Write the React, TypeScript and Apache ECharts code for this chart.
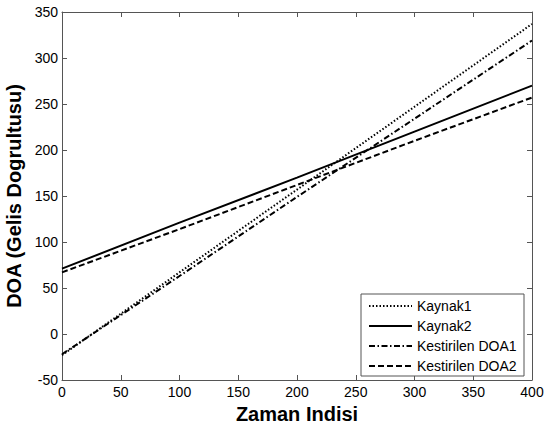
import React, { useEffect, useRef } from "react";
import * as echarts from "echarts";

const xValues = [0, 100, 200, 300, 400];
const kaynak1 = [-23, 67, 157, 247, 337];
const kaynak2 = [71, 121, 170, 220, 270];
const kestirilen1 = [-22, 63, 149, 234, 319];
const kestirilen2 = [67, 114, 162, 210, 257];
const seriesNames = ["Kaynak1", "Kaynak2", "Kestirilen DOA1", "Kestirilen DOA2"];
const xTicks = [0, 50, 100, 150, 200, 250, 300, 350, 400];
const yTicks = [-50, 0, 50, 100, 150, 200, 250, 300, 350];

const FONT = "'Liberation Sans', Arial, sans-serif";

export default function App() {
  const ref = useRef<HTMLDivElement>(null);
  useEffect(() => {
    if (!ref.current) return;
    const chart = echarts.init(ref.current, undefined, { renderer: "svg" });
    const seriesData = [kaynak1, kaynak2, kestirilen1, kestirilen2];
    const dashes: any[] = [[1.5, 2], "solid", [6, 2.5, 1.5, 2.5], [6, 3]];
    const widths = [2, 2, 2, 2];
    const axisLine = { show: true, onZero: false, lineStyle: { color: "#555", width: 1 } };
    const xCommon = {
      type: "value",
      min: xTicks[0],
      max: xTicks[xTicks.length - 1],
      interval: 50,
      splitLine: { show: false },
      axisLine,
      axisTick: { show: true, inside: true, length: 5, lineStyle: { color: "#555" } },
    };
    const yCommon = {
      type: "value",
      min: yTicks[0],
      max: yTicks[yTicks.length - 1],
      interval: 50,
      splitLine: { show: false },
      axisLine,
      axisTick: { show: true, inside: true, length: 5, lineStyle: { color: "#555" } },
    };
    const lx = 361, ly = 294, lw = 163, lh = 82;
    const legendGraphics: any[] = [
      {
        type: "rect",
        shape: { x: lx, y: ly, width: lw, height: lh },
        style: { fill: "#fff", stroke: "#555", lineWidth: 1 },
        z: 100,
      },
    ];
    seriesNames.forEach((name, i) => {
      const yy = ly + 12 + i * 20;
      legendGraphics.push({
        type: "line",
        shape: { x1: lx + 8, y1: yy, x2: lx + 51, y2: yy },
        style: {
          stroke: "#000",
          lineWidth: 2,
          lineDash: dashes[i] === "solid" ? null : dashes[i],
        },
        z: 101,
      });
      legendGraphics.push({
        type: "text",
        x: lx + 56,
        y: yy,
        style: {
          text: name,
          fill: "#000",
          font: `14px ${FONT}`,
          textVerticalAlign: "middle",
          verticalAlign: "middle",
        },
        z: 101,
      });
    });
    chart.setOption({
      animation: false,
      backgroundColor: "#fff",
      textStyle: { fontFamily: FONT },
      grid: {
        left: 62,
        right: 12,
        top: 12,
        bottom: 48,
        containLabel: false,
        outerBoundsMode: "none",
      },
      xAxis: [
        {
          ...xCommon,
          position: "bottom",
          name: "Zaman Indisi",
          nameLocation: "middle",
          nameGap: 24,
          nameTextStyle: { fontSize: 20, fontWeight: "bold", color: "#000", fontFamily: FONT },
          axisLabel: { color: "#000", fontSize: 14, margin: 5, fontFamily: FONT },
        },
        { ...xCommon, position: "top", axisLabel: { show: false } },
      ],
      yAxis: [
        {
          ...yCommon,
          position: "left",
          name: "DOA (Gelis Dogrultusu)",
          nameLocation: "middle",
          nameGap: 32,
          nameTextStyle: { fontSize: 20, fontWeight: "bold", color: "#000", fontFamily: FONT },
          axisLabel: { color: "#000", fontSize: 14, margin: 4, fontFamily: FONT },
        },
        { ...yCommon, position: "right", axisLabel: { show: false } },
      ],
      series: seriesData.map((d, i) => ({
        name: seriesNames[i],
        type: "line",
        showSymbol: false,
        symbol: "none",
        data: xValues.map((x, j) => [x, d[j]]),
        lineStyle: { color: "#000", width: widths[i], type: dashes[i] },
        silent: true,
      })),
      graphic: legendGraphics,
    });
    return () => chart.dispose();
  }, []);
  return (
    <div
      ref={ref}
      style={{ position: "fixed", left: 0, top: 0, width: 544, height: 428 }}
    />
  );
}
